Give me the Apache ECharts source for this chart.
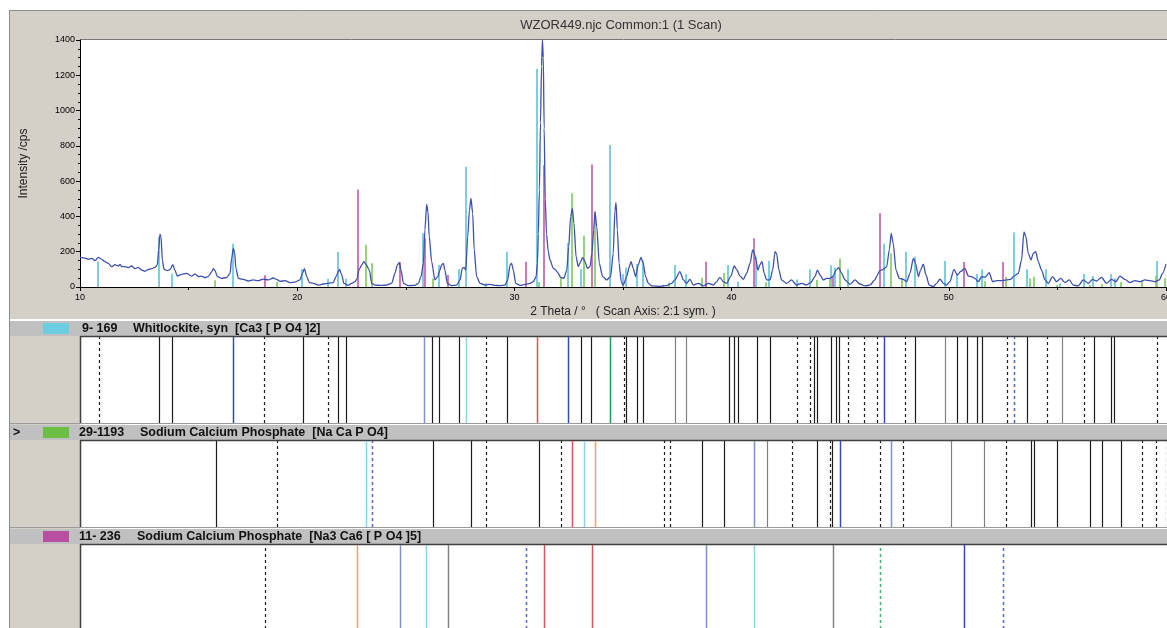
<!DOCTYPE html>
<html><head><meta charset="utf-8">
<script src="https://cdn.jsdelivr.net/npm/echarts@6/dist/echarts.min.js"></script>
<style>html,body{margin:0;padding:0;background:#fff;overflow:hidden}#c{width:1167px;height:628px}</style>
</head><body><div id="c"></div>
<script>
// ---- measured scan (2theta in degrees, intensity in cps) ----
const scanTheta = [10.0,10.23,10.38,10.54,10.69,10.84,11.0,11.15,11.3,11.46,11.61,11.76,11.85,11.92,12.07,12.23,12.38,12.53,12.68,12.84,12.99,13.15,13.3,13.45,13.56,13.62,13.68,13.73,13.79,13.87,14.02,14.15,14.27,14.37,14.48,14.68,14.91,15.14,15.3,15.45,15.6,15.75,15.9,16.06,16.14,16.22,16.32,16.52,16.75,16.91,16.98,17.06,17.12,17.18,17.29,17.52,17.75,17.98,18.21,18.44,18.67,18.9,19.05,19.21,19.44,19.67,19.9,20.13,20.24,20.33,20.44,20.56,20.74,20.97,21.2,21.43,21.66,21.79,21.89,21.95,22.05,22.15,22.35,22.51,22.66,22.75,22.85,22.97,23.07,23.17,23.32,23.43,23.58,23.89,24.12,24.35,24.5,24.61,24.7,24.78,24.89,25.12,25.42,25.58,25.7,25.81,25.88,25.96,26.02,26.08,26.19,26.34,26.47,26.57,26.65,26.73,26.8,26.91,27.11,27.34,27.5,27.6,27.68,27.76,27.85,27.93,28.0,28.08,28.15,28.26,28.42,28.65,28.88,29.11,29.34,29.57,29.69,29.8,29.87,29.95,30.06,30.26,30.49,30.72,30.87,31.0,31.06,31.1,31.15,31.2,31.25,31.29,31.33,31.37,31.42,31.48,31.56,31.64,31.79,31.91,32.02,32.13,32.28,32.41,32.5,32.59,32.67,32.74,32.84,32.94,33.05,33.14,33.25,33.36,33.48,33.57,33.65,33.71,33.79,33.91,34.06,34.25,34.43,34.55,34.63,34.68,34.74,34.82,34.92,35.01,35.17,35.29,35.37,35.47,35.58,35.7,35.83,35.93,36.04,36.17,36.32,36.7,37.01,37.24,37.39,37.62,37.78,37.93,38.08,38.24,38.47,38.7,38.93,39.16,39.31,39.46,39.62,39.77,39.97,40.12,40.23,40.39,40.54,40.69,40.85,40.97,41.05,41.12,41.21,41.3,41.4,41.5,41.61,41.77,41.89,42.0,42.07,42.18,42.3,42.53,42.76,42.99,43.22,43.45,43.64,43.84,43.95,44.07,44.22,44.38,44.53,44.68,44.81,44.93,45.07,45.22,45.45,45.68,45.91,46.14,46.37,46.6,46.68,46.83,46.98,47.14,47.26,47.35,47.44,47.57,47.72,47.9,48.06,48.21,48.37,48.47,48.6,48.7,48.83,48.95,49.1,49.29,49.44,49.59,49.75,49.9,50.05,50.24,50.39,50.54,50.74,50.9,51.05,51.2,51.36,51.51,51.66,51.86,52.02,52.2,52.43,52.66,52.85,53.0,53.2,53.35,53.46,53.55,53.66,53.78,53.89,54.0,54.12,54.27,54.43,54.58,54.78,54.96,55.15,55.35,55.55,55.73,55.96,56.19,56.42,56.62,56.8,57.03,57.26,57.49,57.69,57.88,58.11,58.34,58.57,58.8,59.03,59.26,59.49,59.69,59.84,60.0];
const scanCounts = [168,164,157,162,149,168,157,144,134,115,127,119,128,115,115,110,119,104,111,96,89,100,104,111,125,210,300,285,153,100,93,100,127,96,62,72,77,62,74,59,62,53,59,85,104,93,59,49,53,77,162,219,195,106,49,43,34,40,36,45,40,51,43,32,36,25,28,40,77,104,59,25,21,11,17,21,25,59,87,100,68,21,9,21,30,45,100,125,144,128,96,21,11,9,11,21,77,125,138,96,21,8,9,21,59,134,323,468,427,285,144,40,59,96,125,134,96,21,8,11,40,106,111,96,285,436,502,417,210,59,21,11,15,9,8,11,40,125,134,96,21,9,15,21,30,59,134,300,550,930,1250,1400,1300,900,500,300,200,153,106,96,77,55,49,96,229,399,446,361,172,115,144,168,144,106,115,191,323,427,342,134,59,40,59,191,436,478,323,134,30,11,59,115,144,106,59,125,168,134,59,21,6,4,8,21,40,87,40,21,43,11,21,6,21,11,30,55,30,21,62,119,100,62,43,77,134,210,191,153,96,125,144,77,40,40,96,200,191,96,40,21,40,11,21,11,25,59,96,68,40,49,49,62,96,110,77,40,15,40,17,6,11,40,62,93,100,115,210,304,247,96,49,43,30,77,162,134,59,96,130,68,11,2,21,45,21,11,30,100,68,87,106,62,59,49,30,59,55,81,30,36,36,40,43,62,77,153,313,285,191,153,191,200,144,96,40,21,59,30,49,25,40,11,6,40,21,43,34,55,21,43,30,62,43,25,36,30,40,36,30,40,77,130];

// ---- reference stick patterns (2theta, intensity) ----
const whitlockiteX = [10.84,13.64,14.24,17.03,20.24,21.43,21.89,22.23,25.81,26.54,27.43,27.77,28.69,29.68,31.03,32.49,33.05,34.41,35.01,35.15,35.64,35.94,37.38,37.9,39.85,40.28,41.12,41.74,43.03,43.6,44.58,44.78,45.35,47.03,48.01,48.46,49.83,50.39,51.31,51.52,53.0,53.59,54.49,55.12,56.21,56.62,57.49,57.65,59.6];
const whitlockiteH = [145,285,75,245,100,47,198,47,305,125,100,682,21,200,1236,250,102,805,74,110,130,150,125,74,125,30,170,147,43,100,123,110,101,246,200,172,147,70,74,101,309,101,101,21,74,62,74,49,147];
const naCaPO4X = [16.22,19.07,23.17,23.46,26.24,31.12,32.15,32.65,33.19,33.7,36.86,37.13,38.65,39.66,41.57,43.92,44.52,45.0,47.32,47.86,51.65,52.62,53.76,53.93,54.96,56.5,57.07,57.91,58.88,59.55,59.96];
const naCaPO4H = [38,28,240,134,48,28,55,532,291,427,11,26,53,80,25,40,51,161,192,51,32,57,50,58,11,11,17,28,28,63,49];
const na3Ca6X = [18.5,22.78,24.73,25.9,26.93,30.52,31.38,33.59,38.82,41.03,44.65,46.83,50.71,52.49];
const na3Ca6H = [66,553,140,277,68,143,690,695,143,277,60,418,142,142];

// ---- reference line panels (2theta positions grouped by line style) ----
const p1Solid = [13.65,14.23,20.25,21.89,22.23,26.19,26.54,27.44,29.68,33.07,33.54,35.15,35.66,35.94,39.86,40.09,40.28,41.16,41.75,43.78,43.95,44.58,44.79,44.95,48.46,50.4,50.82,51.29,51.54,53.62,56.67,57.48,57.62];
const p1Grey = [37.39,37.9,49.83,55.19];
const p1Dashed = [10.86,18.47,21.44,28.71,35.03,43.01,43.59,45.35,46.11,46.71,48.0,52.67,54.5,56.22,59.59];
const p1Blue = [17.03,32.48,47.03];
const p1Peri = [25.82];
const p1Cyan = [27.78];
const p1Red = [31.04];
const p1Green = [34.41];
const p1BlueDashed = [53.0];

const p2Solid = [16.24,26.26,27.99,31.12,38.66,39.66,43.91,44.61,53.78,53.92,54.96,56.52,57.07,57.92];
const p2Grey = [41.62,50.11,51.64];
const p2Dashed = [19.06,28.71,32.15,36.88,37.15,42.76,44.51,46.82,47.87,52.63,58.89,59.56,60.0];
const p2Cyan = [23.18,33.2];
const p2BlueDashed = [23.46];
const p2Red = [32.64];
const p2Orange = [33.7];
const p2Peri = [41.02,47.33];
const p2Blue = [45.0];

const p3Dashed = [18.51];
const p3Orange = [22.77];
const p3Peri = [24.73,38.82];
const p3Cyan = [25.91,41.02];
const p3Grey = [26.93,44.67];
const p3BlueDashed = [30.52,52.49];
const p3Red = [31.37,33.57];
const p3GreenDashed = [46.83];
const p3Blue = [50.71];

// ---------------------------------------------------------------
const chart = echarts.init(document.getElementById('c'), null, {renderer:'canvas'});
const FONT = 'Liberation Sans';

function stickSeries(xs, hs, color) {
  return {
    type:'custom', xAxisIndex:0, yAxisIndex:0, silent:true, z:3, clip:true,
    data: xs.map((x,i)=>[x,hs[i]]),
    encode:{x:0,y:1},
    renderItem:(params, api)=>{
      const b = api.coord([api.value(0),0]);
      const t = api.coord([api.value(0),api.value(1)]);
      const x = Math.round(b[0]);
      return {type:'line', shape:{x1:x,y1:b[1],x2:x,y2:t[1]}, style:{stroke:color,lineWidth:2,opacity:0.85}};
    }
  };
}
function vlineSeries(gi, xs, color, dashed, width) {
  return {
    type:'custom', xAxisIndex:gi, yAxisIndex:gi, silent:true, z:3, clip:true,
    data: xs.map(x=>[x,0]),
    encode:{x:0,y:1},
    renderItem:(params, api)=>{
      const b = api.coord([api.value(0),0]);
      const t = api.coord([api.value(0),1]);
      const x = Math.round(b[0]) + 0.5;
      return {type:'line', shape:{x1:x,y1:b[1],x2:x,y2:t[1]},
        style:{stroke:color,lineWidth:width||1.2,lineDash:dashed?[3,3]:null}};
    }
  };
}

const C = {black:'#1c1c1c', grey:'#808080', blue:'#3448b8', peri:'#7f90d4', cyan:'#86d6e6',
  red:'#e6505c', green:'#1f9a52', orange:'#f4a062', blueDash:'#5366c8', greenDash:'#3cb474'};

const hiddenAxis = (gi, min, max) => ({type:'value', gridIndex:gi, min, max, show:false});

const bg = '#d4d0c8', hdr = '#c0c0c0';
const HF = 'bold 12.5px ' + FONT;
const graphics = [
  {type:'rect', z:-100, shape:{x:10,y:10,width:1157,height:309}, style:{fill:bg}},
  {type:'line', z:-99, shape:{x1:10,y1:10.5,x2:1167,y2:10.5}, style:{stroke:'#8c8c8c',lineWidth:1}},
  {type:'line', z:-99, shape:{x1:9.5,y1:10,x2:9.5,y2:628}, style:{stroke:'#8c8c8c',lineWidth:1}},
  {type:'rect', z:-100, shape:{x:80,y:39,width:1087,height:248}, style:{fill:'#fff'}},
  {type:'line', z:-99, shape:{x1:80,y1:39.5,x2:1167,y2:39.5}, style:{stroke:'#777',lineWidth:1}},
  // panel headers
  {type:'rect', z:-100, shape:{x:10,y:321,width:1157,height:15}, style:{fill:hdr}},
  {type:'rect', z:-100, shape:{x:10,y:425,width:1157,height:15}, style:{fill:hdr}},
  {type:'rect', z:-100, shape:{x:10,y:529,width:1157,height:15}, style:{fill:hdr}},
  // panel left gray
  {type:'rect', z:-100, shape:{x:10,y:336,width:70,height:89}, style:{fill:bg}},
  {type:'rect', z:-100, shape:{x:10,y:440,width:70,height:89}, style:{fill:bg}},
  {type:'rect', z:-100, shape:{x:10,y:544,width:70,height:84}, style:{fill:bg}},
  // panel whites
  {type:'rect', z:-100, shape:{x:80,y:337,width:1087,height:86}, style:{fill:'#fff'}},
  {type:'rect', z:-100, shape:{x:80,y:441,width:1087,height:86}, style:{fill:'#fff'}},
  {type:'rect', z:-100, shape:{x:80,y:545,width:1087,height:83}, style:{fill:'#fff'}},
  // panel borders
  {type:'line', z:-98, shape:{x1:80,y1:336.5,x2:1167,y2:336.5}, style:{stroke:'#404040',lineWidth:1.5}},
  {type:'line', z:-98, shape:{x1:80,y1:440.5,x2:1167,y2:440.5}, style:{stroke:'#404040',lineWidth:1.5}},
  {type:'line', z:-98, shape:{x1:80,y1:544.5,x2:1167,y2:544.5}, style:{stroke:'#404040',lineWidth:1.5}},
  {type:'line', z:-98, shape:{x1:80.5,y1:336,x2:80.5,y2:423}, style:{stroke:'#404040',lineWidth:1.5}},
  {type:'line', z:-98, shape:{x1:80.5,y1:440,x2:80.5,y2:527}, style:{stroke:'#404040',lineWidth:1.5}},
  {type:'line', z:-98, shape:{x1:80.5,y1:544,x2:80.5,y2:628}, style:{stroke:'#404040',lineWidth:1.5}},
  {type:'line', z:-98, shape:{x1:10,y1:423.5,x2:1167,y2:423.5}, style:{stroke:'#9a9a9a',lineWidth:1}},
  {type:'line', z:-98, shape:{x1:10,y1:527.5,x2:1167,y2:527.5}, style:{stroke:'#9a9a9a',lineWidth:1}},
  // swatches
  {type:'rect', z:-97, shape:{x:43,y:323,width:26,height:11}, style:{fill:'#6dcde0'}},
  {type:'rect', z:-97, shape:{x:43,y:427,width:26,height:11}, style:{fill:'#6cbf45'}},
  {type:'rect', z:-97, shape:{x:43,y:531,width:26,height:11}, style:{fill:'#b94fa0'}},
  // texts
  {type:'text', z:100, x:621, y:25, style:{text:'WZOR449.njc Common:1 (1 Scan)', font:'13px '+FONT, fill:'#333', textAlign:'center', textVerticalAlign:'middle'}},
  {type:'text', z:100, x:82, y:329, style:{text:'9- 169', font:HF, fill:'#111', textVerticalAlign:'middle'}},
  {type:'text', z:100, x:133, y:329, style:{text:'Whitlockite, syn  [Ca3 [ P O4 ]2]', font:HF, fill:'#111', textVerticalAlign:'middle'}},
  {type:'text', z:100, x:13, y:433, style:{text:'>', font:HF, fill:'#111', textVerticalAlign:'middle'}},
  {type:'text', z:100, x:79, y:433, style:{text:'29-1193', font:HF, fill:'#111', textVerticalAlign:'middle'}},
  {type:'text', z:100, x:140, y:433, style:{text:'Sodium Calcium Phosphate  [Na Ca P O4]', font:HF, fill:'#111', textVerticalAlign:'middle'}},
  {type:'text', z:100, x:79, y:537, style:{text:'11- 236', font:HF, fill:'#111', textVerticalAlign:'middle'}},
  {type:'text', z:100, x:137, y:537, style:{text:'Sodium Calcium Phosphate  [Na3 Ca6 [ P O4 ]5]', font:HF, fill:'#111', textVerticalAlign:'middle'}}
];

const option = {
  animation:false,
  backgroundColor:'transparent',
  textStyle:{fontFamily:FONT},
  graphic:{elements:graphics},
  grid:[
    {left:80, top:40, width:1086, height:247, show:false, outerBoundsMode:'none', containLabel:false},
    {left:80, top:337, width:1086, height:86, show:false, outerBoundsMode:'none', containLabel:false},
    {left:80, top:441, width:1086, height:86, show:false, outerBoundsMode:'none', containLabel:false},
    {left:80, top:545, width:1086, height:90, show:false, outerBoundsMode:'none', containLabel:false}
  ],
  xAxis:[
    {type:'value', gridIndex:0, min:10, max:60, interval:10,
     axisLine:{show:true, onZero:false, lineStyle:{color:'#000', width:1}},
     axisTick:{show:true, length:4, lineStyle:{color:'#000'}},
     minorTick:{show:true, splitNumber:2, length:3, lineStyle:{color:'#000'}},
     axisLabel:{fontSize:9, color:'#000', margin:6, fontFamily:FONT, formatter:v=>String(v)},
     splitLine:{show:false},
     name:'2 Theta / °   ( Scan Axis: 2:1 sym. )', nameLocation:'middle', nameGap:19,
     nameTextStyle:{fontSize:12, color:'#222', fontFamily:FONT}},
    hiddenAxis(1,10,60), hiddenAxis(2,10,60), hiddenAxis(3,10,60)
  ],
  yAxis:[
    {type:'value', gridIndex:0, min:0, max:1400, interval:200,
     axisLine:{show:true, lineStyle:{color:'#000', width:1}},
     axisTick:{show:true, length:4, lineStyle:{color:'#000'}},
     minorTick:{show:true, splitNumber:4, length:2, lineStyle:{color:'#000'}},
     axisLabel:{fontSize:9, color:'#000', margin:5, fontFamily:FONT, formatter:v=>String(v)},
     splitLine:{show:false},
     name:'Intensity /cps', nameLocation:'middle', nameGap:50, nameRotate:90,
     nameTextStyle:{fontSize:12, color:'#222', fontFamily:FONT}},
    hiddenAxis(1,0,1), hiddenAxis(2,0,1), hiddenAxis(3,0,1)
  ],
  series:[
    {type:'line', xAxisIndex:0, yAxisIndex:0, z:4, silent:true, showSymbol:false, symbol:'none',
     smooth:0.25, smoothMonotone:'x', clip:true,
     data: scanTheta.map((t,i)=>[t, scanCounts[i]]),
     lineStyle:{color:'#3d50b0', width:1.3}},
    stickSeries(whitlockiteX, whitlockiteH, '#62c8de'),
    stickSeries(naCaPO4X, naCaPO4H, '#84cc62'),
    stickSeries(na3Ca6X, na3Ca6H, '#c862ae'),
    vlineSeries(1, p1Solid, C.black, false),
    vlineSeries(1, p1Grey, C.grey, false),
    vlineSeries(1, p1Dashed, C.black, true),
    vlineSeries(1, p1Blue, C.blue, false, 1.5),
    vlineSeries(1, p1Peri, C.peri, false, 1.5),
    vlineSeries(1, p1Cyan, C.cyan, false, 1.5),
    vlineSeries(1, p1Red, C.red, false, 1.5),
    vlineSeries(1, p1Green, C.green, false, 1.5),
    vlineSeries(1, p1BlueDashed, C.blueDash, true, 1.5),
    vlineSeries(2, p2Solid, C.black, false),
    vlineSeries(2, p2Grey, C.grey, false),
    vlineSeries(2, p2Dashed, C.black, true),
    vlineSeries(2, p2Cyan, C.cyan, false, 1.5),
    vlineSeries(2, p2BlueDashed, C.blueDash, true, 1.5),
    vlineSeries(2, p2Red, C.red, false, 1.5),
    vlineSeries(2, p2Orange, C.orange, false, 1.5),
    vlineSeries(2, p2Peri, C.peri, false, 1.5),
    vlineSeries(2, p2Blue, C.blue, false, 1.5),
    vlineSeries(3, p3Dashed, C.black, true),
    vlineSeries(3, p3Orange, C.orange, false, 1.5),
    vlineSeries(3, p3Peri, C.peri, false, 1.5),
    vlineSeries(3, p3Cyan, C.cyan, false, 1.5),
    vlineSeries(3, p3Grey, C.grey, false, 1.5),
    vlineSeries(3, p3BlueDashed, C.blueDash, true, 1.5),
    vlineSeries(3, p3Red, C.red, false, 1.5),
    vlineSeries(3, p3GreenDashed, C.greenDash, true, 1.5),
    vlineSeries(3, p3Blue, C.blue, false, 1.5)
  ]
};
chart.setOption(option);
</script></body></html>
